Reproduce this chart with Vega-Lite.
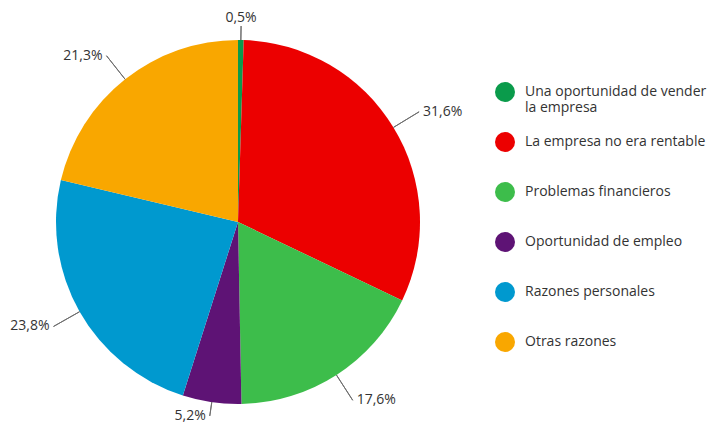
{
  "$schema": "https://vega.github.io/schema/vega-lite/v6.json",
  "width": 476,
  "height": 414,
  "autosize": {"type": "none"},
  "padding": {"left": 0, "top": 15, "right": 235, "bottom": 0},
  "background": "white",
  "config": {"view": {"stroke": null}, "font": "Open Sans"},
  "data": {
    "values": [
      {"label": "Una oportunidad de vender la empresa", "v": 0.5, "pct": "0,5%", "order": 1},
      {"label": "La empresa no era rentable", "v": 31.6, "pct": "31,6%", "order": 2},
      {"label": "Problemas financieros", "v": 17.6, "pct": "17,6%", "order": 3},
      {"label": "Oportunidad de empleo", "v": 5.2, "pct": "5,2%", "order": 4},
      {"label": "Razones personales", "v": 23.8, "pct": "23,8%", "order": 5},
      {"label": "Otras razones", "v": 21.3, "pct": "21,3%", "order": 6}
    ]
  },
  "layer": [
    {
      "mark": {"type": "arc", "outerRadius": 182},
      "encoding": {
        "theta": {"field": "v", "type": "quantitative", "stack": true, "scale": {"domain": [0, 100]}},
        "order": {"field": "order", "type": "quantitative"},
        "color": {
          "field": "label",
          "type": "nominal",
          "scale": {
            "domain": ["Una oportunidad de vender la empresa", "La empresa no era rentable", "Problemas financieros", "Oportunidad de empleo", "Razones personales", "Otras razones"],
            "range": ["#0a9b4b", "#ec0000", "#3dbd4b", "#5e1375", "#0099cf", "#f9a700"]
          },
          "legend": {
            "title": null,
            "orient": "none",
            "legendX": 495,
            "legendY": 67,
            "padding": 0,
            "symbolType": "circle",
            "symbolSize": 400,
            "symbolStrokeWidth": 0,
            "symbolOpacity": 1,
            "labelFont": "Open Sans",
            "labelFontSize": 14,
            "labelColor": "#333333",
            "labelOffset": 10,
            "labelLimit": 400,
            "rowPadding": 17,
            "gridAlign": "all",
            "labelExpr": "datum.label == 'Una oportunidad de vender la empresa' ? ['Una oportunidad de vender', 'la empresa'] : datum.label"
          }
        }
      }
    },
    {
      "transform": [
        {"stack": "v", "groupby": [], "sort": [{"field": "order", "order": "ascending"}], "as": ["s0", "s1"]},
        {"fold": ["s0", "s1"], "as": ["edge", "ang"]},
        {"aggregate": [{"op": "mean", "field": "ang", "as": "mid"}], "groupby": ["label", "pct", "order"]}
      ],
      "layer": [
        {
          "transform": [{"filter": {"field": "label", "oneOf": ["Una oportunidad de vender la empresa", "Oportunidad de empleo"]}}],
          "mark": {"type": "arc", "innerRadius": 182, "outerRadius": 196, "stroke": "#6e6e6e", "strokeWidth": 1, "fill": "white", "fillOpacity": 0},
          "encoding": {
            "theta": {"field": "mid", "type": "quantitative", "stack": null, "scale": {"domain": [0, 100]}},
            "theta2": {"field": "mid"}
          }
        },
        {
          "transform": [{"filter": {"field": "label", "oneOf": ["La empresa no era rentable", "Problemas financieros", "Razones personales", "Otras razones"]}}],
          "mark": {"type": "arc", "innerRadius": 182, "outerRadius": 212, "stroke": "#6e6e6e", "strokeWidth": 1, "fill": "white", "fillOpacity": 0},
          "encoding": {
            "theta": {"field": "mid", "type": "quantitative", "stack": null, "scale": {"domain": [0, 100]}},
            "theta2": {"field": "mid"}
          }
        },
        {
          "transform": [{"filter": {"field": "label", "oneOf": ["Una oportunidad de vender la empresa"]}}],
          "mark": {"type": "text", "radius": 196, "baseline": "bottom", "align": "center", "dy": -1, "fontSize": 14, "color": "#333333"},
          "encoding": {
            "theta": {"field": "mid", "type": "quantitative", "stack": null, "scale": {"domain": [0, 100]}},
            "text": {"field": "pct"}
          }
        },
        {
          "transform": [{"filter": {"field": "label", "oneOf": ["Oportunidad de empleo"]}}],
          "mark": {"type": "text", "radius": 196, "baseline": "middle", "align": "right", "dx": -4, "fontSize": 14, "color": "#333333"},
          "encoding": {
            "theta": {"field": "mid", "type": "quantitative", "stack": null, "scale": {"domain": [0, 100]}},
            "text": {"field": "pct"}
          }
        },
        {
          "transform": [{"filter": {"field": "label", "oneOf": ["La empresa no era rentable", "Problemas financieros"]}}],
          "mark": {"type": "text", "radius": 212, "baseline": "middle", "align": "left", "dx": 4, "fontSize": 14, "color": "#333333"},
          "encoding": {
            "theta": {"field": "mid", "type": "quantitative", "stack": null, "scale": {"domain": [0, 100]}},
            "text": {"field": "pct"}
          }
        },
        {
          "transform": [{"filter": {"field": "label", "oneOf": ["Razones personales", "Otras razones"]}}],
          "mark": {"type": "text", "radius": 212, "baseline": "middle", "align": "right", "dx": -4, "fontSize": 14, "color": "#333333"},
          "encoding": {
            "theta": {"field": "mid", "type": "quantitative", "stack": null, "scale": {"domain": [0, 100]}},
            "text": {"field": "pct"}
          }
        }
      ]
    }
  ]
}
